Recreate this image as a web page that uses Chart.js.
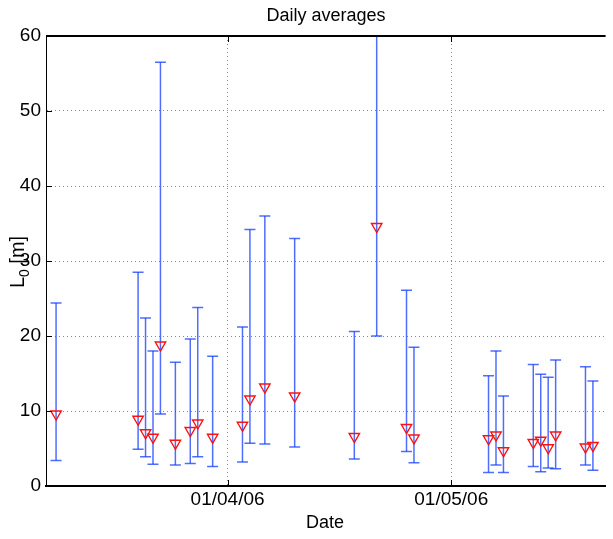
<!DOCTYPE html>
<html>
<head>
<meta charset="utf-8">
<script src="https://cdn.jsdelivr.net/npm/chart.js@4"></script>
<style>
  html, body { margin: 0; padding: 0; background: #fff; }
  canvas { display: block; }
</style>
</head>
<body>
<canvas id="chart" width="613" height="539"></canvas>
<script>
// data
const dates = ['2006-03-09', '2006-03-20', '2006-03-21', '2006-03-22', '2006-03-23', '2006-03-25',
    '2006-03-27', '2006-03-28', '2006-03-30', '2006-04-03', '2006-04-04', '2006-04-06', '2006-04-10',
    '2006-04-18', '2006-04-21', '2006-04-25', '2006-04-26', '2006-05-06', '2006-05-07', '2006-05-08',
    '2006-05-12', '2006-05-13', '2006-05-14', '2006-05-15', '2006-05-19', '2006-05-20']
const means = [9.6, 8.9, 7.1, 6.5, 18.8, 5.7, 7.4, 8.4, 6.5, 8.1, 11.6, 13.2, 12.0,
    6.6, 34.6, 7.8, 6.4, 6.3, 6.8, 4.7, 5.8, 6.1, 5.1, 6.8, 5.2, 5.4]
const lows = [3.4, 4.9, 3.9, 2.9, 9.6, 2.8, 3.0, 3.9, 2.6, 3.2, 5.7, 5.6, 5.2,
    3.6, 20.0, 4.6, 3.1, 1.8, 2.8, 1.8, 2.6, 1.9, 2.4, 2.3, 2.8, 2.1]
const highs = [24.4, 28.5, 22.4, 18.0, 56.5, 16.5, 19.6, 23.8, 17.3, 21.2, 34.2, 36.0, 33.0,
    20.6, 75.0, 26.1, 18.5, 14.7, 18.0, 12.0, 16.2, 14.9, 14.5, 16.8, 15.9, 14.0]

const tickDates = ['2006-04-01', '2006-05-01']
const tickLabels = ['01/04/06', '01/05/06']
const yTicks = [0, 10, 20, 30, 40, 50, 60]

// days counted from 1 April 2006
const origin = Date.UTC(2006, 3, 1)
function dayOf(s) {
    let [y, m, d] = s.split('-').map(Number)
    return (Date.UTC(y, m - 1, d) - origin) / 86400000
}
const xs = dates.map(dayOf)
const tickXs = tickDates.map(dayOf)

let stems = []
let caps = []
xs.forEach((x, i) => {
    stems.push({x, y: lows[i]}, {x, y: highs[i]}, {x, y: null})
    caps.push({x, y: lows[i]}, {x, y: highs[i]})
})
let marks = xs.map((x, i) => ({x, y: means[i]}))

const FONT = '"Liberation Sans", Arial, Helvetica, sans-serif'
const BLUE = 'rgba(20, 60, 255, 0.75)'

// labels, top border and inward ticks like the original
const decor = {
    id: 'decor',
    afterDraw(chart) {
        let {ctx, chartArea: a, scales} = chart
        ctx.save()
        ctx.strokeStyle = '#000'
        ctx.lineWidth = 2
        ctx.beginPath()
        ctx.moveTo(a.left, a.top)
        ctx.lineTo(a.right, a.top)
        ctx.stroke()

        ctx.lineWidth = 1
        ctx.beginPath()
        yTicks.forEach(v => {
            let y = Math.round(scales.y.getPixelForValue(v)) + 0.5
            ctx.moveTo(a.left, y)
            ctx.lineTo(a.left + 6, y)
        })
        tickXs.forEach(v => {
            let x = Math.round(scales.x.getPixelForValue(v)) + 0.5
            ctx.moveTo(x, a.bottom)
            ctx.lineTo(x, a.bottom - 6)
            ctx.moveTo(x, a.top)
            ctx.lineTo(x, a.top + 6)
        })
        ctx.stroke()

        ctx.fillStyle = '#000'
        ctx.textAlign = 'center'
        ctx.textBaseline = 'middle'
        ctx.font = '18px ' + FONT
        ctx.fillText('Daily averages', 326, 16)
        ctx.fillText('Date', 325, 523)

        // y label with subscript
        ctx.translate(24, 262)
        ctx.rotate(-Math.PI / 2)
        ctx.textBaseline = 'alphabetic'
        ctx.textAlign = 'left'
        ctx.font = '20px ' + FONT
        let w1 = ctx.measureText('L').width
        ctx.font = '14px ' + FONT
        let w2 = ctx.measureText('0').width
        ctx.font = '20px ' + FONT
        let w3 = ctx.measureText(' [m]').width
        let x0 = -(w1 + w2 + w3) / 2
        ctx.fillText('L', x0, 0)
        ctx.font = '14px ' + FONT
        ctx.fillText('0', x0 + w1, 5)
        ctx.font = '20px ' + FONT
        ctx.fillText(' [m]', x0 + w1 + w2, 0)
        ctx.restore()
    },
}

new Chart(
    document.getElementById('chart'),
    {
        type: 'scatter',
        data: {
            datasets: [
                {
                    label: 'mean',
                    data: marks,
                    pointStyle: 'triangle',
                    rotation: 180,
                    pointRadius: 6,
                    borderColor: '#ff1010',
                    backgroundColor: 'rgba(0,0,0,0)',
                    borderWidth: 1.4,
                },
                {
                    label: 'caps',
                    data: caps,
                    pointStyle: 'line',
                    pointRadius: 5.5,
                    borderColor: BLUE,
                    borderWidth: 1.5,
                },
                {
                    type: 'line',
                    label: 'stems',
                    data: stems,
                    spanGaps: false,
                    pointRadius: 0,
                    borderColor: BLUE,
                    borderWidth: 1.5,
                },
            ],
        },
        options: {
            responsive: false,
            animation: false,
            devicePixelRatio: 1,
            layout: {padding: {top: 36, right: 0, left: 0, bottom: 0}},
            plugins: {
                legend: {display: false},
                tooltip: {enabled: false},
                title: {display: false},
            },
            scales: {
                x: {
                    type: 'linear',
                    min: -24.35,
                    max: 50.7,
                    afterBuildTicks: s => { s.ticks = tickXs.map(v => ({value: v})) },
                    afterFit: s => { s.height = 53 },
                    ticks: {
                        callback: v => tickLabels[tickXs.indexOf(v)],
                        font: {size: 19, family: FONT},
                        color: '#000',
                        padding: 2,
                        maxRotation: 0,
                        autoSkip: false,
                    },
                    grid: {
                        color: '#888',
                        drawTicks: false,
                    },
                    border: {color: '#000', width: 2, dash: [1, 3]},
                },
                y: {
                    min: 0,
                    max: 60,
                    afterBuildTicks: s => { s.ticks = yTicks.map(v => ({value: v})) },
                    afterFit: s => { s.width = 46 },
                    ticks: {
                        font: {size: 19, family: FONT},
                        color: '#000',
                        padding: 5,
                    },
                    grid: {
                        color: '#888',
                        drawTicks: false,
                    },
                    border: {color: '#000', width: 1, dash: [1, 3]},
                },
            },
        },
        plugins: [decor],
    },
)
</script>
</body>
</html>
